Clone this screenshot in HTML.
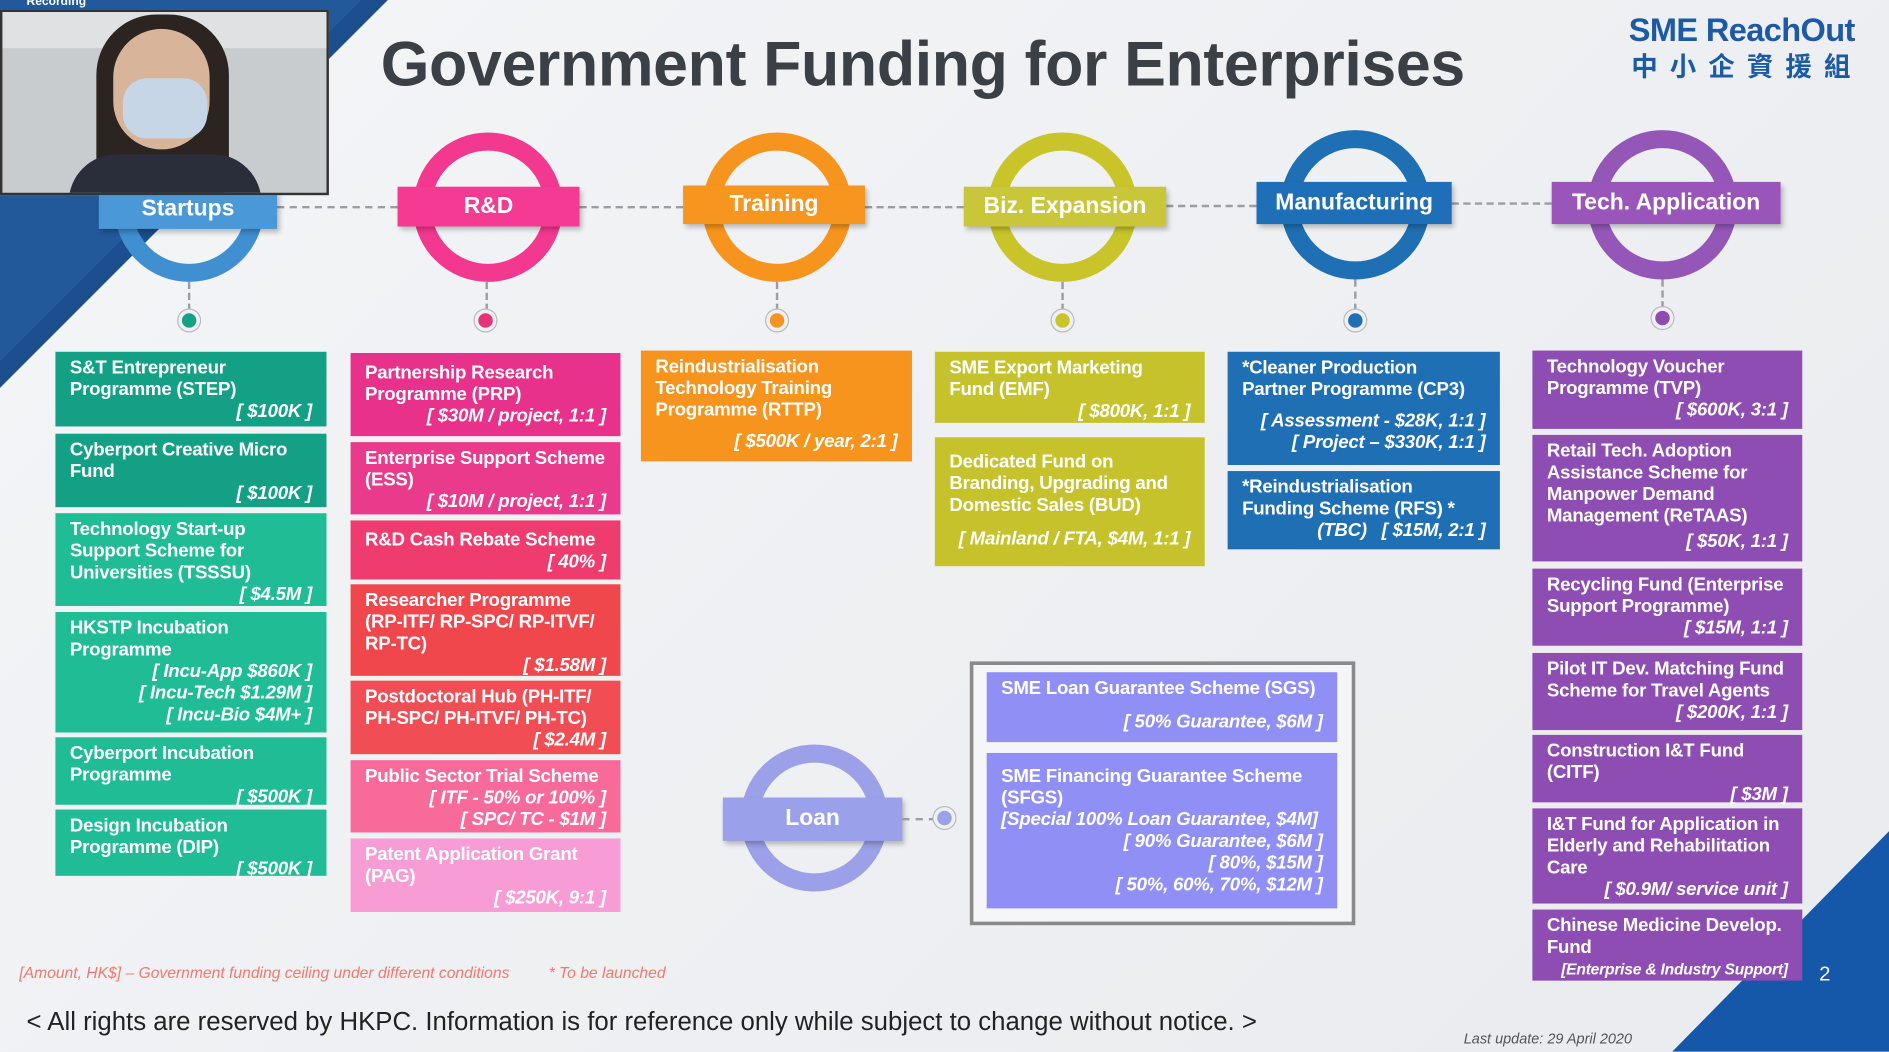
<!DOCTYPE html>
<html><head><meta charset="utf-8"><style>
html,body{margin:0;padding:0;width:1889px;height:1052px;overflow:hidden;background:#eef0f3}
#w{position:absolute;left:0;top:0;width:1568px;height:873px;transform:scale(1.20472);transform-origin:0 0;font-family:"Liberation Sans",Arial,sans-serif;background:linear-gradient(135deg,#f4f5f7,#e9ebee)}
.a{position:absolute}
.ring{position:absolute;border-radius:50%;box-sizing:border-box}
.bar{position:absolute;color:#fff;font-weight:bold;font-size:19px;text-align:center;box-shadow:2px 3px 4px rgba(0,0,0,.25)}
.b{position:absolute;color:#fff;font-weight:bold;font-size:15.5px;line-height:18px;padding:5px 12px 0 12px;box-sizing:border-box;letter-spacing:-0.2px}
.r{text-align:right;font-style:italic;display:block}
.dh{position:absolute;height:0;border-top:2px dashed #9a9da2}
.dv{position:absolute;width:0;border-left:2px dashed #9a9da2}
.dot{position:absolute;width:12px;height:12px;border-radius:50%;box-shadow:0 0 0 3px #eef0f3,0 0 0 4px #b9b9bd}
</style></head><body><div id="w">
<svg class="a" style="left:0;top:0" width="1568" height="873">
<polygon points="0,0 322,0 0,322" fill="#1b4f8f"/>
<polygon points="0,0 300,0 0,300" fill="#2a64a8" opacity=".5"/>
<polygon points="1568,690 1568,873 1388,873" fill="#1557a8"/>
</svg>
<div class="a" style="left:316px;top:24px;font-size:52px;font-weight:bold;color:#3b4047;letter-spacing:-0.3px">Government Funding for Enterprises</div>
<div class="a" style="left:1352px;top:10px;font-size:27px;font-weight:bold;color:#1c5aa6;letter-spacing:-0.5px">SME ReachOut</div>
<div class="a" style="left:1354px;top:38px;font-size:22px;font-weight:bold;color:#1c5aa6;letter-spacing:10px;font-family:'Liberation Sans','Noto Sans CJK TC',sans-serif">中小企資援組</div>

<div class="dh" style="left:230px;top:171px;width:100px"></div>
<div class="dh" style="left:481px;top:171px;width:86px"></div>
<div class="dh" style="left:718px;top:171px;width:82px"></div>
<div class="dh" style="left:968px;top:170px;width:75px"></div>
<div class="dh" style="left:1205px;top:168px;width:83px"></div>

<div class="ring" style="left:95px;top:110px;width:124px;height:124px;border:15px solid #3f8fd1"></div>
<div class="bar" style="left:82px;top:158px;width:148px;height:32px;line-height:32px;background:#4a98d8">Startups</div>
<div class="ring" style="left:343px;top:110px;width:124px;height:124px;border:15px solid #f2388f"></div>
<div class="bar" style="left:330px;top:155px;width:151px;height:33px;line-height:33px;background:#f43a92">R&amp;D</div>
<div class="ring" style="left:583px;top:110px;width:124px;height:124px;border:15px solid #f7941d"></div>
<div class="bar" style="left:567px;top:154px;width:151px;height:32px;line-height:32px;background:#f7961e">Training</div>
<div class="ring" style="left:820px;top:110px;width:124px;height:124px;border:15px solid #c8c42a"></div>
<div class="bar" style="left:800px;top:155px;width:168px;height:33px;line-height:33px;background:#cac63a">Biz. Expansion</div>
<div class="ring" style="left:1063px;top:108px;width:124px;height:124px;border:15px solid #1f6fb5"></div>
<div class="bar" style="left:1043px;top:151px;width:162px;height:35px;line-height:35px;background:#1f6fb8">Manufacturing</div>
<div class="ring" style="left:1318px;top:108px;width:124px;height:124px;border:15px solid #9457b8"></div>
<div class="bar" style="left:1288px;top:151px;width:190px;height:35px;line-height:35px;background:#9a55ba">Tech. Application</div>

<!-- webcam on top -->
<div class="a" style="left:0;top:8px;width:273px;height:154px;background:#c9cccf;border:2px solid #333;box-sizing:border-box;overflow:hidden">
<div class="a" style="left:0;top:0;width:273px;height:30px;background:#dfe1e3"></div>
<div class="a" style="left:78px;top:2px;width:110px;height:150px;border-radius:50px 50px 10px 10px;background:#2b2420"></div>
<div class="a" style="left:92px;top:14px;width:80px;height:100px;border-radius:40px;background:#d8b49a"></div>
<div class="a" style="left:100px;top:55px;width:70px;height:50px;border-radius:20px;background:#c6d6e6"></div>
<div class="a" style="left:55px;top:118px;width:160px;height:40px;border-radius:40px 40px 0 0;background:#2a2d3a"></div>
</div>
<div class="a" style="left:22px;top:-4px;color:#fff;font-size:10px;font-weight:bold">Recording</div>

<div class="dv" style="left:156px;top:234px;height:24px"></div><div class="dot" style="left:151px;top:260px;background:#16a085"></div>
<div class="dv" style="left:403px;top:234px;height:24px"></div><div class="dot" style="left:397px;top:260px;background:#e8317a"></div>
<div class="dv" style="left:644px;top:234px;height:24px"></div><div class="dot" style="left:639px;top:260px;background:#f7941d"></div>
<div class="dv" style="left:881px;top:234px;height:24px"></div><div class="dot" style="left:876px;top:260px;background:#c8c42a"></div>
<div class="dv" style="left:1124px;top:232px;height:26px"></div><div class="dot" style="left:1119px;top:260px;background:#1f6fb5"></div>
<div class="dv" style="left:1379px;top:232px;height:24px"></div><div class="dot" style="left:1374px;top:258px;background:#8e4bb0"></div>

<div class="b" style="left:46px;top:292px;width:225px;height:62px;background:#14a085">S&amp;T Entrepreneur Programme (STEP)<span class="r">[ $100K ]</span></div>
<div class="b" style="left:46px;top:360px;width:225px;height:61px;background:#14a085">Cyberport Creative Micro Fund<span class="r">[ $100K ]</span></div>
<div class="b" style="left:46px;top:426px;width:225px;height:77px;background:#1fbc96">Technology Start-up Support Scheme for Universities (TSSSU)<span class="r">[ $4.5M ]</span></div>
<div class="b" style="left:46px;top:508px;width:225px;height:100px;background:#1fbc96">HKSTP Incubation Programme<span class="r">[ Incu-App $860K ]<br>[ Incu-Tech $1.29M ]<br>[ Incu-Bio $4M+ ]</span></div>
<div class="b" style="left:46px;top:612px;width:225px;height:56px;background:#1fbc96">Cyberport Incubation Programme<span class="r">[ $500K ]</span></div>
<div class="b" style="left:46px;top:672px;width:225px;height:55px;background:#1fbc96">Design Incubation Programme (DIP)<span class="r">[ $500K ]</span></div>

<div class="b" style="left:291px;top:293px;width:224px;height:69px;background:#e8318a;padding-top:8px">Partnership Research Programme (PRP)<span class="r">[ $30M / project, 1:1 ]</span></div>
<div class="b" style="left:291px;top:367px;width:224px;height:60px;background:#ea3a8c">Enterprise Support Scheme (ESS)<span class="r">[ $10M / project, 1:1 ]</span></div>
<div class="b" style="left:291px;top:432px;width:224px;height:49px;background:#ee3c6e;padding-top:8px">R&amp;D Cash Rebate Scheme<span class="r">[ 40% ]</span></div>
<div class="b" style="left:291px;top:485px;width:224px;height:76px;background:#f0474d">Researcher Programme (RP-ITF/ RP-SPC/ RP-ITVF/ RP-TC)<span class="r">[ $1.58M ]</span></div>
<div class="b" style="left:291px;top:565px;width:224px;height:61px;background:#f04e54">Postdoctoral Hub (PH-ITF/ PH-SPC/ PH-ITVF/ PH-TC)<span class="r">[ $2.4M ]</span></div>
<div class="b" style="left:291px;top:631px;width:224px;height:60px;background:#f86a9a">Public Sector Trial Scheme<span class="r">[ ITF - 50% or 100% ]<br>[ SPC/ TC - $1M ]</span></div>
<div class="b" style="left:291px;top:696px;width:224px;height:61px;background:#f89cd6">Patent Application Grant (PAG)<span class="r">[ $250K, 9:1 ]</span></div>

<div class="b" style="left:532px;top:291px;width:225px;height:92px;background:#f7941d">Reindustrialisation Technology Training Programme (RTTP)<span class="r" style="margin-top:8px">[ $500K / year, 2:1 ]</span></div>

<div class="b" style="left:776px;top:292px;width:224px;height:59px;background:#c5c22b">SME Export Marketing Fund (EMF)<span class="r">[ $800K, 1:1 ]</span></div>
<div class="b" style="left:776px;top:363px;width:224px;height:107px;background:#c5c22b;padding-top:12px">Dedicated Fund on Branding, Upgrading and Domestic Sales (BUD)<span class="r" style="margin-top:10px">[ Mainland / FTA, $4M, 1:1 ]</span></div>

<div class="b" style="left:1019px;top:292px;width:226px;height:94px;background:#1f6fb5">*Cleaner Production Partner Programme (CP3)<span class="r" style="margin-top:8px">[ Assessment - $28K, 1:1 ]<br>[ Project – $330K, 1:1 ]</span></div>
<div class="b" style="left:1019px;top:391px;width:226px;height:65px;background:#1f6fb5">*Reindustrialisation Funding Scheme (RFS) *<span class="r">(TBC) &nbsp; [ $15M, 2:1 ]</span></div>

<div class="b" style="left:1272px;top:291px;width:224px;height:65px;background:#8e4db3">Technology Voucher Programme (TVP)<span class="r">[ $600K, 3:1 ]</span></div>
<div class="b" style="left:1272px;top:361px;width:224px;height:105px;background:#8e4db3">Retail Tech. Adoption Assistance Scheme for Manpower Demand Management (ReTAAS)<span class="r" style="margin-top:3px">[ $50K, 1:1 ]</span></div>
<div class="b" style="left:1272px;top:472px;width:224px;height:64px;background:#8e4db3">Recycling Fund (Enterprise Support Programme)<span class="r">[ $15M, 1:1 ]</span></div>
<div class="b" style="left:1272px;top:542px;width:224px;height:64px;background:#8e4db3">Pilot IT Dev. Matching Fund Scheme for Travel Agents<span class="r">[ $200K, 1:1 ]</span></div>
<div class="b" style="left:1272px;top:610px;width:224px;height:56px;background:#8e4db3">Construction I&amp;T Fund (CITF)<span class="r">[ $3M ]</span></div>
<div class="b" style="left:1272px;top:671px;width:224px;height:79px;background:#8e4db3">I&amp;T Fund for Application in Elderly and Rehabilitation Care<span class="r">[ $0.9M/ service unit ]</span></div>
<div class="b" style="left:1272px;top:755px;width:224px;height:59px;background:#8e4db3">Chinese Medicine Develop. Fund<span class="r" style="font-size:13px">[Enterprise &amp; Industry Support]</span></div>

<div class="ring" style="left:615px;top:618px;width:122px;height:122px;border:15px solid #9ba0e8"></div>
<div class="bar" style="left:600px;top:662px;width:149px;height:36px;line-height:36px;background:#9aa0ea">Loan</div>
<div class="dh" style="left:749px;top:679px;width:28px"></div>
<div class="dot" style="left:778px;top:673px;background:#9ba0e8"></div>
<div class="a" style="left:805px;top:549px;width:320px;height:219px;border:3px solid #8a8a8a;box-sizing:border-box;background:#f6f6f8"></div>
<div class="b" style="left:819px;top:558px;width:291px;height:58px;background:#8f8ff5">SME Loan Guarantee Scheme (SGS)<span class="r" style="margin-top:10px">[ 50% Guarantee, $6M ]</span></div>
<div class="b" style="left:819px;top:625px;width:291px;height:129px;background:#8f8ff5;padding-top:11px">SME Financing Guarantee Scheme (SFGS)<span class="r" style="text-align:left">[Special 100% Loan Guarantee, $4M]</span><span class="r">[ 90% Guarantee, $6M ]<br>[ 80%, $15M ]<br>[ 50%, 60%, 70%, $12M ]</span></div>

<div class="a" style="left:16px;top:800px;font-size:13px;font-style:italic;color:#ee7a70">[Amount, HK$] – Government funding ceiling under different conditions &nbsp; &nbsp; &nbsp; &nbsp; * To be launched</div>
<div class="a" style="left:22px;top:836px;font-size:21.4px;color:#222">&lt; All rights are reserved by HKPC. Information is for reference only while subject to change without notice. &gt;</div>
<div class="a" style="left:1215px;top:855px;font-size:12px;font-style:italic;color:#555">Last update: 29 April 2020</div>
<div class="a" style="left:1510px;top:799px;font-size:17px;color:#fff">2</div>
</div></body></html>
